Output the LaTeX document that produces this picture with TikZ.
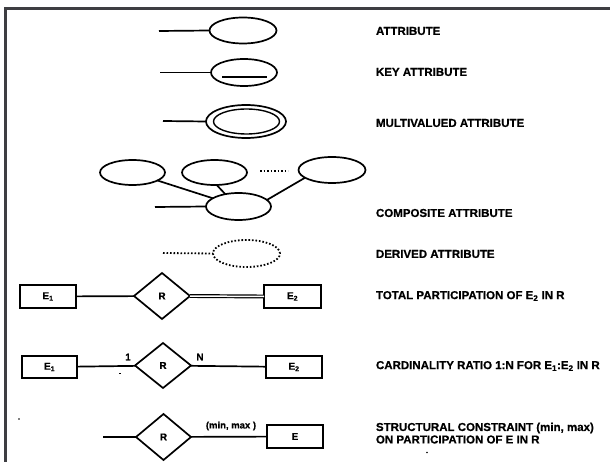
\documentclass[tikz,border=0pt]{standalone}
\usepackage{fontspec}
\setmainfont{Liberation Sans}[BoldFeatures={FakeBold=0.6}]
\usetikzlibrary{shapes.geometric}
\definecolor{framegray}{HTML}{3E3E42}
\begin{document}
\begin{tikzpicture}[x=1pt,y=-1pt,
  every node/.style={inner sep=0pt, outer sep=0pt},
  thick line/.style={line width=1.7pt},
  attr/.style={ellipse, draw, line width=1.7pt},
  ent/.style={rectangle, draw, line width=1.7pt, minimum width=56pt, minimum height=23pt,
    font=\bfseries\fontsize{10}{11}\selectfont},
  rel/.style={diamond, draw, line width=1.7pt, minimum width=56pt, minimum height=46pt,
    font=\bfseries\fontsize{10}{11}\selectfont},
  legend/.style={anchor=west, font=\bfseries\fontsize{11.5}{13}\selectfont},
  small label/.style={font=\bfseries\fontsize{9.5}{11}\selectfont},
  dotline/.style={line width=1.8pt, dash pattern=on 1.6pt off 1.9pt},
]
% page and frame
\fill[white] (0,0) rectangle (610,462);
\useasboundingbox (0,0) rectangle (610,462);
\draw[line width=3pt, framegray] (610,8.5) -- (5.5,8.5) -- (5.5,462);

% attribute
\node[attr, minimum width=67pt, minimum height=26pt] (a) at (243,30.5) {};
\coordinate (aend) at (159,31);
\draw[thick line] (aend) -- (a.west);
\node[legend] (la) at (376,31) {ATTRIBUTE};

% key attribute
\node[attr, minimum width=66pt, minimum height=27pt] (k) at (244,72.5) {};
\coordinate (kend) at (160,72.5);
\draw[thick line] (kend) -- (k.west);
\draw[line width=1.4pt] ([xshift=-22pt,yshift=-4.5pt]k.center) -- ([xshift=23pt,yshift=-4.5pt]k.center);
\node[legend] (lk) at (376,72) {KEY ATTRIBUTE};

% multivalued attribute
\node[attr, minimum width=80pt, minimum height=33pt] (m) at (246,121.5) {};
\node[attr, line width=1.4pt, minimum width=66pt, minimum height=25pt] (mi) at (246.5,121.5) {};
\coordinate (mend) at (163,121);
\draw[thick line] (mend) -- (m.west);
\node[legend] (lm) at (376,123) {MULTIVALUED ATTRIBUTE};

% composite attribute
\node[attr, minimum width=65pt, minimum height=25pt] (c1) at (132.5,172.5) {};
\node[attr, minimum width=65pt, minimum height=25pt] (c2) at (214.5,172.5) {};
\node[attr, minimum width=67pt, minimum height=26pt] (c3) at (332,170) {};
\node[attr, minimum width=65pt, minimum height=27pt] (c0) at (238.5,206.5) {};
\coordinate (cend) at (155,207);
\draw[thick line] (cend) -- (c0.west);
\draw[thick line] (c1) -- (c0);
\draw[thick line] (c2.-80) -- (c0.137);
\draw[thick line] (c3.196) -- (c0.13);
\coordinate (dl) at (260,171);
\coordinate (dr) at (288,171);
\draw[dotline] (dl) -- (dr);
\node[legend] (lc) at (376,213) {COMPOSITE ATTRIBUTE};

% derived attribute
\node[ellipse, draw, dotline, minimum width=67pt, minimum height=27pt] (d) at (246.5,253.5) {};
\coordinate (dend) at (163,253);
\draw[dotline] (dend) -- (d.west);
\node[legend] (ld) at (376,254) {DERIVED ATTRIBUTE};

% total participation
\node[ent] (t1) at (48,296.5) {E\textsubscript{1}};
\node[rel] (tr) at (162,296) {R};
\node[ent, minimum width=57pt] (t2) at (292.5,296.5) {E\textsubscript{2}};
\draw[thick line] (t1) -- (tr);
\draw[line width=1.2pt, double, double distance=1.5pt] (tr.east) -- (t2.west);
\node[legend] (lt) at (376,296) {TOTAL PARTICIPATION OF E\textsubscript{2} IN R};

% cardinality ratio
\node[ent, minimum width=55pt, minimum height=22pt] (r1) at (49.5,367) {E\textsubscript{1}};
\node[rel, minimum height=45pt] (rr) at (163,365.5) {R};
\node[ent, minimum height=22pt] (r2) at (294,367) {E\textsubscript{2}};
\draw[thick line] (r1) -- (rr);
\draw[thick line] (rr) -- (r2);
\node[small label] (one) at (128,357) {1};
\node[small label] (en) at (200,357) {N};
\draw[line width=1pt] (119,373.5) -- (121,373.5);
\node[legend] (lr) at (376,366) {CARDINALITY RATIO 1:N FOR E\textsubscript{1}:E\textsubscript{2} IN R};

% structural constraint
\node[rel, minimum width=55pt] (sr) at (163.5,437) {R};
\node[ent] (se) at (295,436.5) {E};
\coordinate (send) at (103,437);
\draw[thick line] (send) -- (sr.west);
\draw[thick line] (sr) -- (se);
\node[small label] (mm) at (231,426) {(min, max )};
\fill (19,419) circle (0.9);
\fill (427,452.5) circle (0.8);
\node[legend] (ls1) at (376,428) {STRUCTURAL CONSTRAINT (min, max)};
\node[legend] (ls2) at (376,439.5) {ON PARTICIPATION OF E IN R};
\end{tikzpicture}
\end{document}
